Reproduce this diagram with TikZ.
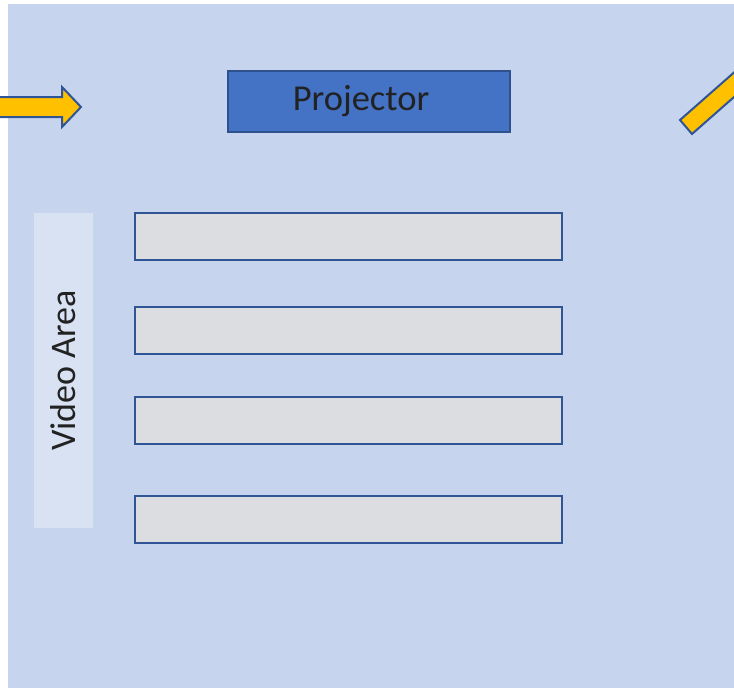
\documentclass[tikz,border=0pt]{standalone}
\usepackage{fontspec}
\setmainfont{Carlito}
\definecolor{bgblue}{HTML}{C6D4EE}
\definecolor{lightbox}{HTML}{D9E2F3}
\definecolor{projfill}{HTML}{4472C4}
\definecolor{projedge}{HTML}{2F528F}
\definecolor{edgeblue}{HTML}{2F5597}
\definecolor{grayfill}{HTML}{DCDDE0}
\definecolor{arrowfill}{HTML}{FFC000}
\definecolor{textdark}{HTML}{222222}
\tikzset{
  slot/.style={draw=edgeblue, fill=grayfill, line width=2pt, minimum width=427pt, minimum height=47pt, inner sep=0pt, anchor=north west},
  projbox/.style={draw=projedge, fill=projfill, line width=2pt, minimum width=282pt, minimum height=61pt, inner sep=0pt},
  bigtext/.style={text=textdark, font=\fontsize{36.5}{42}\selectfont, inner sep=0pt},
  videobox/.style={fill=lightbox, minimum width=59pt, minimum height=315pt, inner sep=0pt},
  yarrow/.style={draw=edgeblue, fill=arrowfill, line width=2pt, line join=miter}
}
\begin{document}
\begin{tikzpicture}[x=1pt,y=-1pt]
\useasboundingbox (0,0) rectangle (734,688);
\fill[bgblue] (8,4) rectangle (734,688);
% left arrow
\draw[yarrow] (-5,97) -- (62,97) -- (62,87) -- (81,107) -- (62,127) -- (62,117) -- (-5,117) -- cycle;
% right diagonal bar
\begin{scope}
\clip (0,0) rectangle (734,688);
\draw[yarrow] (680,120) -- (692,134) -- (767,68) -- (755,54) -- cycle;
\end{scope}
\node[projbox] (proj) at (369,101.5) {};
\node[bigtext] (projlabel) at ([xshift=-8pt]proj.center) {Projector};
\node[videobox] (video) at (63.5,370.5) {};
\node[bigtext, rotate=90, font=\fontsize{36}{42}\selectfont] (videolabel) at (video.center) {Video Area};
\node[slot] (s1) at (134,212) {};
\node[slot] (s2) at (134,306) {};
\node[slot] (s3) at (134,396) {};
\node[slot] (s4) at (134,495) {};
\end{tikzpicture}
\end{document}
